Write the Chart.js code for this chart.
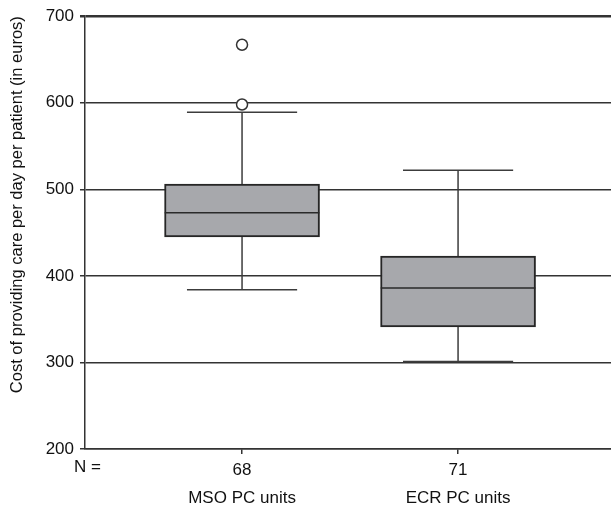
<!DOCTYPE html>
<html>
<head>
<meta charset="utf-8">
<script src="https://cdn.jsdelivr.net/npm/chart.js@4.4.1/dist/chart.umd.min.js"></script>
<style>
  html, body { margin: 0; padding: 0; background: #fff; }
  #wrap { width: 611px; height: 507px; }
</style>
</head>
<body>
<div id="wrap"><canvas id="boxChart" width="611" height="507"></canvas></div>
<script>
const groups = ['MSO PC units', 'ECR PC units'];
const counts = [68, 71];
const lowerWhisker = [384, 301];
const q1 = [445, 341];
const median = [473, 386];
const q3 = [506, 423];
const upperWhisker = [589, 522];
const outliers = [[598, 667], []];
const yTicks = [200, 300, 400, 500, 600, 700];

const boxHalf = 0.358;   // half box width, in category units
const capHalf = 0.255;   // half whisker cap width

// whisker segments: lower cap, stem, upper cap; NaN breaks the line
const whiskerPts = [];
const medianPts = [];
groups.forEach((g, i) => {
    whiskerPts.push({x: i - capHalf, y: lowerWhisker[i]}, {x: i + capHalf, y: lowerWhisker[i]}, {x: i, y: NaN});
    whiskerPts.push({x: i, y: lowerWhisker[i]}, {x: i, y: upperWhisker[i]}, {x: i, y: NaN});
    whiskerPts.push({x: i - capHalf, y: upperWhisker[i]}, {x: i + capHalf, y: upperWhisker[i]}, {x: i, y: NaN});
    medianPts.push({x: i - boxHalf, y: median[i]}, {x: i + boxHalf, y: median[i]}, {x: i, y: NaN});
});
const outlierPts = [];
outliers.forEach((list, i) => list.forEach(v => outlierPts.push({x: i, y: v})));

const nLabel = {
    id: 'nLabel',
    afterDraw(chart) {
        const ctx = chart.ctx;
        const xs = chart.scales.x;
        ctx.save();
        ctx.font = '17px "Liberation Sans", Arial, sans-serif';
        ctx.fillStyle = '#111';
        ctx.textAlign = 'left';
        ctx.textBaseline = 'middle';
        ctx.fillText('N =', 74, xs.top + 18);
        ctx.restore();
    }
};

new Chart(document.getElementById('boxChart'), {
    type: 'bar',
    data: {
        datasets: [
            {
                type: 'bar',
                data: groups.map((g, i) => ({x: i, y: [q1[i], q3[i]]})),
                backgroundColor: '#a7a8ac',
                borderColor: '#262626',
                borderWidth: 2,
                borderSkipped: false,
                barThickness: 155,
                order: 2
            },
            {
                type: 'line',
                data: whiskerPts,
                borderColor: '#3c3c3c',
                borderWidth: 1.5,
                pointRadius: 0,
                spanGaps: false,
                order: 3
            },
            {
                type: 'line',
                data: medianPts,
                borderColor: '#2a2a2a',
                borderWidth: 1.5,
                pointRadius: 0,
                spanGaps: false,
                order: 1
            },
            {
                type: 'scatter',
                data: outlierPts,
                pointRadius: 5.5,
                pointBackgroundColor: '#fff',
                pointBorderColor: '#333',
                pointBorderWidth: 1.5,
                order: 0
            }
        ]
    },
    options: {
        responsive: false,
        animation: false,
        layout: { autoPadding: false, padding: { top: 15, right: 0, left: 0, bottom: 0 } },
        plugins: { legend: { display: false }, tooltip: { enabled: false } },
        scales: {
            x: {
                type: 'linear',
                offset: false,
                min: -0.727,
                max: 1.708,
                afterFit: s => { s.height = 58; s.paddingLeft = 0; s.paddingRight = 0; },
                afterBuildTicks: s => { s.ticks = groups.map((g, i) => ({value: i})); },
                grid: { offset: false, drawOnChartArea: false, drawTicks: true, tickLength: 5, color: '#333', lineWidth: 1.5 },
                border: { display: true, color: '#333', width: 1.5 },
                ticks: {
                    color: '#111',
                    font: { family: '"Liberation Sans", Arial, sans-serif', size: 17, lineHeight: 1.65 },
                    padding: 2,
                    maxRotation: 0,
                    callback: v => [String(counts[v]), groups[v]]
                }
            },
            y: {
                min: 200,
                max: 700,
                afterFit: s => { s.width = 85; },
                afterBuildTicks: s => { s.ticks = yTicks.map(v => ({value: v})); },
                grid: {
                    color: '#333',
                    lineWidth: c => (c.tick && c.tick.value === 700 ? 2.5 : 1.5),
                    tickLength: 5
                },
                border: { display: true, color: '#333', width: 1.5 },
                ticks: {
                    color: '#111',
                    font: { family: '"Liberation Sans", Arial, sans-serif', size: 17 },
                    padding: 6
                },
                title: {
                    display: true,
                    text: 'Cost of providing care per day per patient (in euros)',
                    color: '#111',
                    align: 'end',
                    font: { family: '"Liberation Sans", Arial, sans-serif', size: 16.5 },
                    padding: { top: 8, bottom: 0 }
                }
            }
        }
    },
    plugins: [nLabel]
});
</script>
</body>
</html>
